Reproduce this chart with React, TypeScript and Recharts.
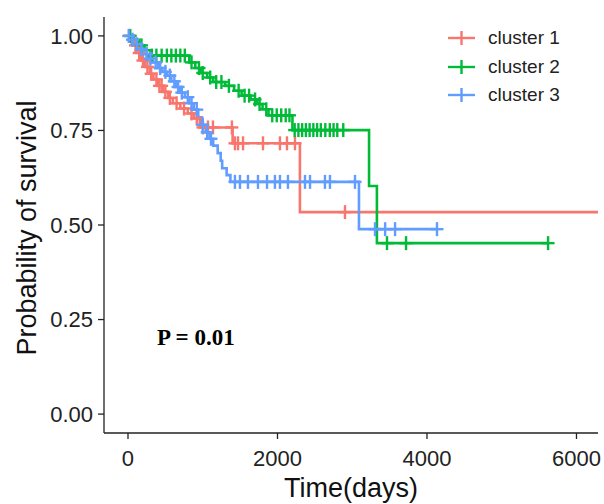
import { ComposedChart, Line, Scatter, XAxis, YAxis, Label } from "recharts";

const CLUSTERS = ["cluster 1", "cluster 2", "cluster 3"];
const COLORS = ["#F8766D", "#00BA38", "#619CFF"];
const X_TICKS = [0, 2000, 4000, 6000];
const Y_TICKS = [0, 0.25, 0.5, 0.75, 1];

// cluster 1 (red)
const TIME_1 = [0, 60, 110, 170, 230, 290, 340, 400, 470, 540, 600, 700, 800, 880, 960, 1400, 2300];
const SURV_1 = [1, 0.975, 0.955, 0.935, 0.918, 0.9, 0.885, 0.868, 0.852, 0.836, 0.822, 0.808, 0.795, 0.782, 0.758, 0.716, 0.534];
const CENSOR_1 = [
  20, 100, 150, 200, 260, 310, 380, 420, 450, 500, 560, 650, 750, 850, 920, 1003, 1070, 1137, 1390,
  1431, 1472, 1539, 1806, 2033, 2127, 2234, 2903,
];
const END_1 = 6300;

// cluster 2 (green)
const TIME_2 = [0, 80, 150, 220, 300, 820, 900, 980, 1060, 1140, 1300, 1420, 1520, 1640, 1730, 1800, 1880, 2200, 3225, 3330];
const SURV_2 = [1, 0.99, 0.975, 0.962, 0.948, 0.93, 0.915, 0.902, 0.89, 0.878, 0.868, 0.855, 0.842, 0.832, 0.82, 0.806, 0.79, 0.751, 0.603, 0.452];
const CENSOR_2 = [
  30, 180, 320, 380, 450, 520, 580, 640, 700, 760, 850, 950, 1000, 1100, 1180, 1250, 1350, 1480, 1560,
  1620, 1700, 1760, 1850, 1930, 1990, 2050, 2110, 2160, 2230, 2280, 2330, 2380, 2430, 2480, 2530,
  2580, 2640, 2700, 2750, 2800, 2880, 3465, 3720, 5620,
];
const END_2 = 5620;

// cluster 3 (blue)
const TIME_3 = [
  0, 40, 90, 150, 210, 270, 330, 400, 460, 520, 580, 640, 700, 760, 820, 880, 940, 990, 1040, 1090,
  1140, 1200, 1240, 1260, 1320, 1370, 3090,
];
const SURV_3 = [
  1, 0.99, 0.978, 0.965, 0.952, 0.94, 0.93, 0.915, 0.905, 0.895, 0.88, 0.865, 0.85, 0.838, 0.822,
  0.805, 0.785, 0.765, 0.745, 0.728, 0.71, 0.69, 0.67, 0.65, 0.632, 0.614, 0.489,
];
const CENSOR_3 = [
  10, 60, 120, 180, 250, 300, 370, 430, 500, 560, 620, 670, 720, 800, 850, 920, 1000, 1060, 1110,
  1431, 1498, 1605, 1739, 1860, 1966, 2033, 2140, 2368, 2435, 2635, 2702, 3037, 3305, 3440, 3573,
  4134,
];
const END_3 = 4134;

const FONT = "'Liberation Sans', Arial, sans-serif";

function curve(times: number[], surv: number[], end: number) {
  const pts = times.map((t, i) => ({ t, s: surv[i] }));
  pts.push({ t: end, s: surv[surv.length - 1] });
  return pts;
}

function survAt(times: number[], surv: number[], t: number) {
  let s = surv[0];
  times.forEach((tt, i) => {
    if (tt <= t) s = surv[i];
  });
  return s;
}

function censors(times: number[], surv: number[], cens: number[]) {
  return cens.map((t) => ({ t, s: survAt(times, surv, t) }));
}

const SERIES = [
  { line: curve(TIME_1, SURV_1, END_1), cens: censors(TIME_1, SURV_1, CENSOR_1) },
  { line: curve(TIME_2, SURV_2, END_2), cens: censors(TIME_2, SURV_2, CENSOR_2) },
  { line: curve(TIME_3, SURV_3, END_3), cens: censors(TIME_3, SURV_3, CENSOR_3) },
];

const plusShape = (color: string) => (props: any) => {
  const { cx, cy } = props;
  if (cx == null || cy == null) return <g />;
  return (
    <g stroke={color} strokeWidth={2.4}>
      <line x1={cx - 6.5} x2={cx + 6.5} y1={cy} y2={cy} />
      <line x1={cx} x2={cx} y1={cy - 7} y2={cy + 7} />
    </g>
  );
};

export default function App() {
  return (
    <div style={{ position: "absolute", left: 0, top: 0, width: 604, height: 504, background: "#fff" }}>
      <ComposedChart width={604} height={504} margin={{ top: 17, right: 6, left: 0, bottom: 0 }}>
        <XAxis
          type="number"
          dataKey="t"
          domain={[-321, 6288]}
          allowDataOverflow
          ticks={X_TICKS}
          tickSize={6}
          tickMargin={11}
          height={71}
          stroke="#222"
          strokeWidth={1.3}
          tick={{ fill: "#222", fontSize: 22, fontFamily: FONT }}
        >
          <Label
            content={({ viewBox }: any) => (
              <text
                x={viewBox.x + viewBox.width / 2}
                y={497}
                textAnchor="middle"
                fontSize={27}
                fontFamily={FONT}
                fill="#111"
              >
                Time(days)
              </text>
            )}
          />
        </XAxis>
        <YAxis
          type="number"
          dataKey="s"
          domain={[-0.05, 1.05]}
          ticks={Y_TICKS}
          tickFormatter={(v: number) => v.toFixed(2)}
          width={104}
          tickSize={6}
          tickMargin={5}
          stroke="#222"
          strokeWidth={1.3}
          tick={{ fill: "#222", fontSize: 22, fontFamily: FONT }}
        >
          <Label
            content={({ viewBox }: any) => (
              <text
                x={0}
                y={0}
                transform={`translate(36, ${viewBox.y + viewBox.height / 2 + 3}) rotate(-90)`}
                textAnchor="middle"
                fontSize={27}
                fontFamily={FONT}
                fill="#111"
              >
                Probability of survival
              </text>
            )}
          />
        </YAxis>
        {SERIES.map((d, i) => (
          <Line
            key={"l" + i}
            data={d.line}
            dataKey="s"
            type="stepAfter"
            stroke={COLORS[i]}
            strokeWidth={2.6}
            dot={false}
            activeDot={false}
            isAnimationActive={false}
          />
        ))}
        {SERIES.map((d, i) => (
          <Scatter
            key={"c" + i}
            data={d.cens}
            dataKey="s"
            shape={plusShape(COLORS[i])}
            isAnimationActive={false}
          />
        ))}
      </ComposedChart>
      <div
        style={{
          position: "absolute",
          left: 157,
          top: 325,
          fontFamily: "'Liberation Serif', 'Times New Roman', serif",
          fontWeight: "bold",
          fontSize: 23,
          color: "#000",
        }}
      >
        P = 0.01
      </div>
      <div style={{ position: "absolute", left: 446, top: 24 }}>
        {CLUSTERS.map((name, i) => (
          <div key={name} style={{ display: "flex", alignItems: "center", height: 28.5 }}>
            <svg width={30} height={20}>
              <g stroke={COLORS[i]} strokeWidth={2.4}>
                <line x1={2} x2={29} y1={10} y2={10} />
                <line x1={15.5} x2={15.5} y1={3} y2={17} />
              </g>
            </svg>
            <span style={{ marginLeft: 12, fontFamily: FONT, fontSize: 19, color: "#222" }}>{name}</span>
          </div>
        ))}
      </div>
    </div>
  );
}
